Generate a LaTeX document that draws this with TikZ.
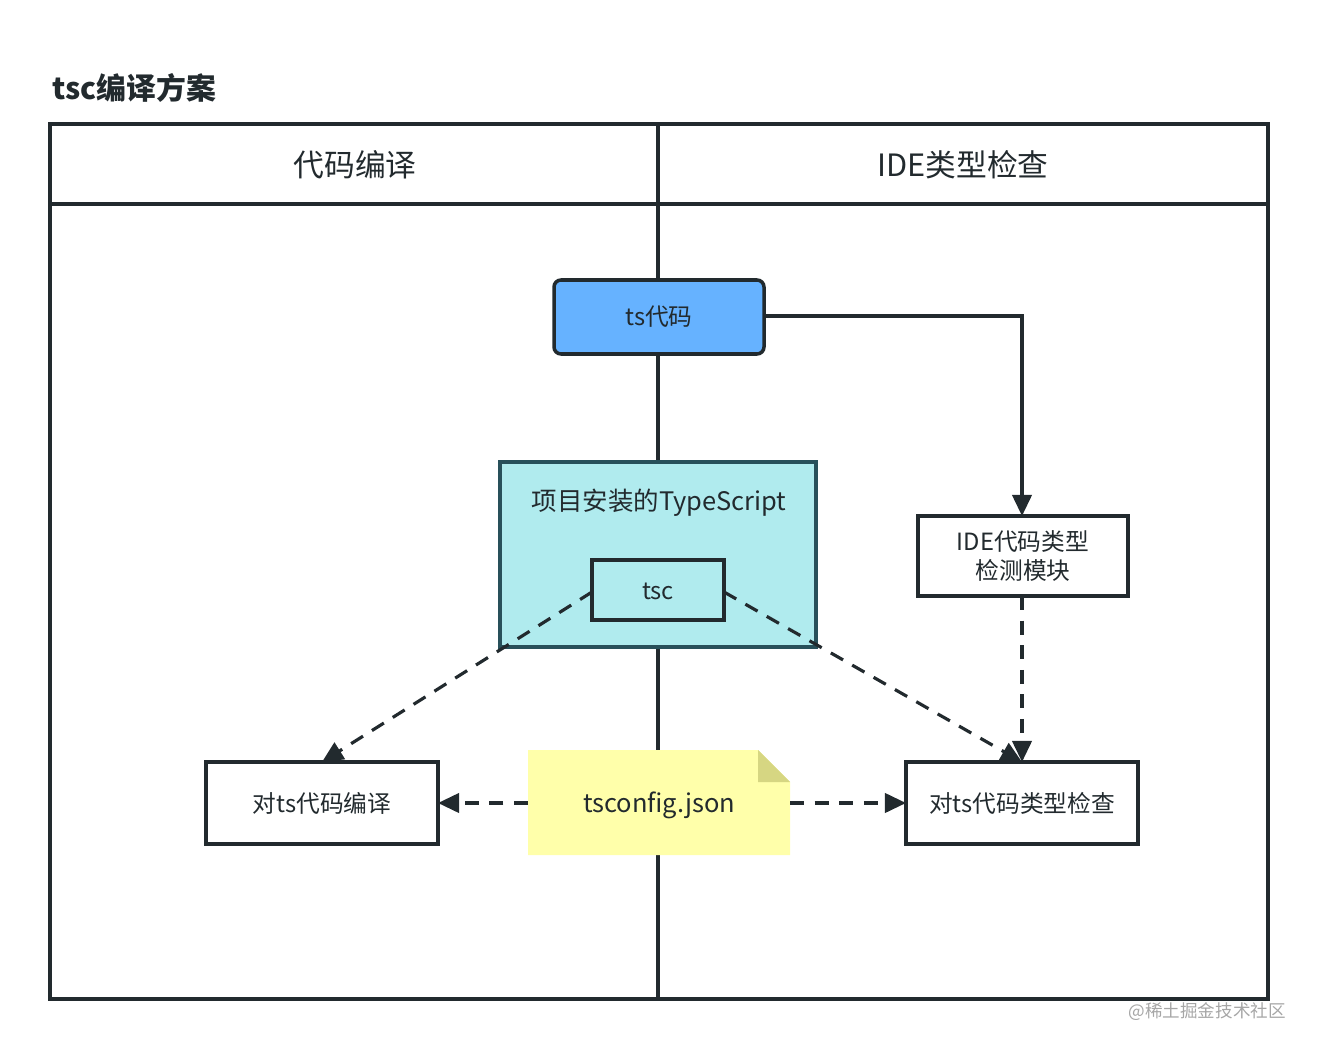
\documentclass[tikz,border=0pt]{standalone}
\usepackage{fontspec}
\setmainfont{Noto Sans CJK SC}
\usetikzlibrary{arrows.meta}
\definecolor{ln}{HTML}{222A2E}
\definecolor{tsblue}{RGB}{102,178,255}
\definecolor{tsborder}{RGB}{40,80,90}
\definecolor{tsfill}{RGB}{176,235,238}
\definecolor{notey}{RGB}{255,255,170}
\definecolor{notefold}{RGB}{214,214,130}
\begin{document}
\begin{tikzpicture}[x=0.02cm,y=-0.02cm,
  box/.style={draw=ln,line width=2pt},
  lbl/.style={font=\fontsize{13.5}{16}\selectfont,text=ln,align=center},
  arr/.style={line width=1.8pt,draw=ln,-{Triangle[length=12pt,width=11pt]}},
  dsh/.style={arr,dash pattern=on 8pt off 6pt}]
\useasboundingbox (0,0) rectangle (1318,1050);
\node[anchor=west,font=\bfseries\fontsize{17}{19}\selectfont,text=ln] (title) at (46,88) {tsc编译方案};
\draw[ln,line width=2pt] (50,124) rectangle (1268,999);
\draw[ln,line width=2pt] (50,204) -- (1268,204);
\draw[ln,line width=2.5pt] (658,124) -- (658,999);
\node[font=\fontsize{17.5}{20}\selectfont,text=ln] (h1) at (355,165) {代码编译};
\node[font=\fontsize{17.5}{20}\selectfont,text=ln] (h2) at (963,165) {IDE类型检查};
\draw[box,fill=tsblue,rounded corners=4pt] (554,280) rectangle (764,354);
\node[lbl] (ts) at (659,317) {ts代码};
\coordinate (tsR) at (764,316);
\draw[draw=tsborder,line width=2pt,fill=tsfill] (500,462) rectangle (816,647);
\node[lbl,font=\fontsize{14.5}{17}\selectfont] (typ) at (659,503) {项目安装的TypeScript};
\draw[box] (592,560) rectangle (724,620);
\node[lbl] (tsc) at (658,591) {tsc};
\coordinate (tscL) at (592,592);
\coordinate (tscR) at (724,592);
\draw[box,fill=white] (918,516) rectangle (1128,596);
\node[lbl,font=\fontsize{13.5}{17}\selectfont] (ide) at (1023,556) {IDE代码类型\\检测模块};
\coordinate (ideT) at (1022,516);
\coordinate (ideB) at (1022,596);
\draw[box,fill=white] (206,762) rectangle (438,844);
\node[lbl] (comp) at (322,803) {对ts代码编译};
\coordinate (compR) at (438,803);
\coordinate (compT) at (322,762);
\draw[box,fill=white] (906,762) rectangle (1138,844);
\node[lbl] (chk) at (1022,803) {对ts代码类型检查};
\coordinate (chkL) at (906,803);
\coordinate (chkT) at (1022,762);
\fill[notey] (528,750) -- (758,750) -- (790,782) -- (790,855) -- (528,855) -- cycle;
\fill[notefold] (758,750) -- (790,782) -- (758,782) -- cycle;
\node[lbl,font=\fontsize{14.5}{17}\selectfont] (cfg) at (659,805) {tsconfig.json};
\coordinate (cfgL) at (528,803);
\coordinate (cfgR) at (790,803);
\draw[arr] (tsR) -- (1022,316) -- (ideT);
\draw[dsh] (ideB) -- (chkT);
\draw[dsh] (tscL) -- (compT);
\draw[dsh] (tscR) -- (chkT);
\draw[dsh] (cfgL) -- (compR);
\draw[dsh] (cfgR) -- (chkL);
\node[anchor=east,font=\fontsize{10}{12}\selectfont,text=gray!70] (wm) at (1292,1012) {@稀土掘金技术社区};
\end{tikzpicture}
\end{document}
